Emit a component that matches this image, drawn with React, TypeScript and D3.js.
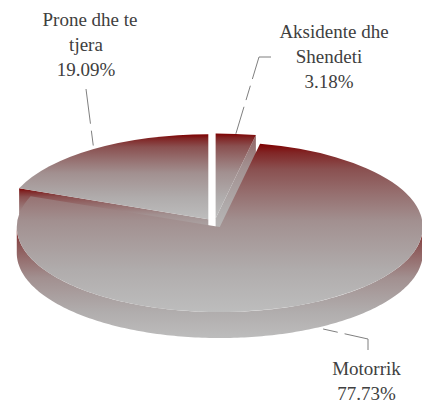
import React, { useRef, useEffect } from 'react';
import * as d3 from 'd3'

// slice order follows the chart, clockwise from 12 o'clock
const categories = ["Aksidente dhe", "Motorrik", "Prone dhe te"]
const secondLines = ["Shendeti", "", "tjera"]
const shares = [3.18, 77.73, 19.09]
const percentLabels = ["3.18%", "77.73%", "19.09%"]

const width = 422
const height = 403
const cx = 214.5
const cy = 223
const rx = 203
const tilt = 85 / 203
const depth = 26
const explode = 11

// leader elbows and text spots, one per slice
const elbows = [
  [[259, 57], [271, 57]],
  [[368, 339], [368, 350]],
  [[86, 89]],
]
const labelPos = [[329, 38], [366.5, 375], [86, 26]]
const firstLineShift = [5, 0, 4]

// the fill fades fast out of the dark red, then slowly to grey
const fadeStops: [string, string][] = [
  ["0%", "#7f0000"],
  ["5%", "#802424"],
  ["15%", "#8a5050"],
  ["30%", "#967070"],
  ["46%", "#a29090"],
  ["75%", "#b0acac"],
  ["100%", "#bdbdbd"],
]

export default function App() {
  const svgRef = useRef<SVGSVGElement>(null)

  useEffect(() => {
    const svg = d3.select(svgRef.current)
    svg.selectAll("*").remove()

    const defs = svg.append("defs")
    const addGradient = (id: string, y1: number | string, y2: number | string, units: string) => {
      const grad = defs.append("linearGradient")
        .attr("id", id)
        .attr("gradientUnits", units)
        .attr("x1", 0).attr("y1", y1)
        .attr("x2", 0).attr("y2", y2)
      fadeStops.forEach(([at, color]) => {
        grad.append("stop").attr("offset", at).attr("stop-color", color)
      })
    }
    addGradient("face", 0, 1, "objectBoundingBox")
    addGradient("wall", 226, 339, "userSpaceOnUse")
    addGradient("aksWall", 100, 245, "userSpaceOnUse")

    const pie = d3.pie<number>().sort(null)
    const arcs = pie(shares)

    const offset = (d: d3.PieArcDatum<number>) => {
      const mid = (d.startAngle + d.endAngle) / 2
      return [cx + explode * Math.sin(mid), cy - explode * tilt * Math.cos(mid)]
    }
    const rim = (d: d3.PieArcDatum<number>, angle: number, drop = 0) => {
      const [ox, oy] = offset(d)
      return [ox + rx * Math.sin(angle), oy - rx * tilt * Math.cos(angle) + drop]
    }
    const line = d3.line()
    const arc = d3.arc<d3.PieArcDatum<number>>().innerRadius(0).outerRadius(rx)

    // cut faces at the back first: Prone start edge, Aksidente end edge
    const cutFace = (d: d3.PieArcDatum<number>, angle: number, fill: string) => {
      const [ox, oy] = offset(d)
      const p = rim(d, angle)
      const q = rim(d, angle, depth)
      svg.append("path")
        .attr("d", line([[ox, oy], p as [number, number], q as [number, number], [ox, oy + depth]]) + "Z")
        .attr("fill", fill)
    }
    cutFace(arcs[2], arcs[2].startAngle, "url(#face)")
    cutFace(arcs[0], arcs[0].endAngle, "url(#aksWall)")

    // outer wall of whatever part of a slice faces the viewer
    arcs.forEach(d => {
      const from = Math.max(d.startAngle, Math.PI / 2)
      const to = Math.min(d.endAngle, Math.PI * 1.5)
      if (from >= to) return
      const angles = d3.range(from, to, Math.PI / 180).concat(to)
      const top = angles.map(a => rim(d, a) as [number, number])
      const bottom = angles.slice().reverse().map(a => rim(d, a, depth) as [number, number])
      svg.append("path")
        .attr("d", line(top.concat(bottom)) + "Z")
        .attr("fill", "url(#wall)")
    })

    // top faces
    svg.selectAll(".top")
      .data(arcs)
      .join("path")
      .attr("class", "top")
      .attr("transform", d => {
        const [ox, oy] = offset(d)
        return `translate(${ox},${oy}) scale(1,${tilt})`
      })
      .attr("d", d => arc(d))
      .attr("fill", "url(#face)")

    // leader lines, drawn from the label end down to the slice rim at its mid angle
    arcs.forEach((d, i) => {
      const mid = (d.startAngle + d.endAngle) / 2
      const front = Math.cos(mid) < 0
      const start = rim(d, mid, front ? depth : 0) as [number, number]
      const pts = [start, ...(elbows[i] as [number, number][])].reverse()
      svg.append("path")
        .attr("d", line(pts))
        .attr("fill", "none")
        .attr("stroke", "#7f7f7f")
        .attr("stroke-width", 1)
        .attr("stroke-dasharray", "35,7,15,7")
    })

    // labels
    categories.forEach((name, i) => {
      const rows = [name, secondLines[i], percentLabels[i]].filter(Boolean)
      const [x, y] = labelPos[i]
      svg.append("text")
        .attr("text-anchor", "middle")
        .attr("font-family", "'Liberation Serif', serif")
        .attr("font-size", 19)
        .attr("fill", "#404040")
        .selectAll("tspan")
        .data(rows)
        .join("tspan")
        .attr("x", (_, k) => (k === 0 ? x + firstLineShift[i] : x))
        .attr("y", (_, k) => y + k * 25)
        .text(t => t)
    })
  }, [])

  return (
    <svg
      ref={svgRef}
      width={width}
      height={height}
      style={{ position: "absolute", left: 0, top: 0, background: "#fff" }}
    />
  )
}
